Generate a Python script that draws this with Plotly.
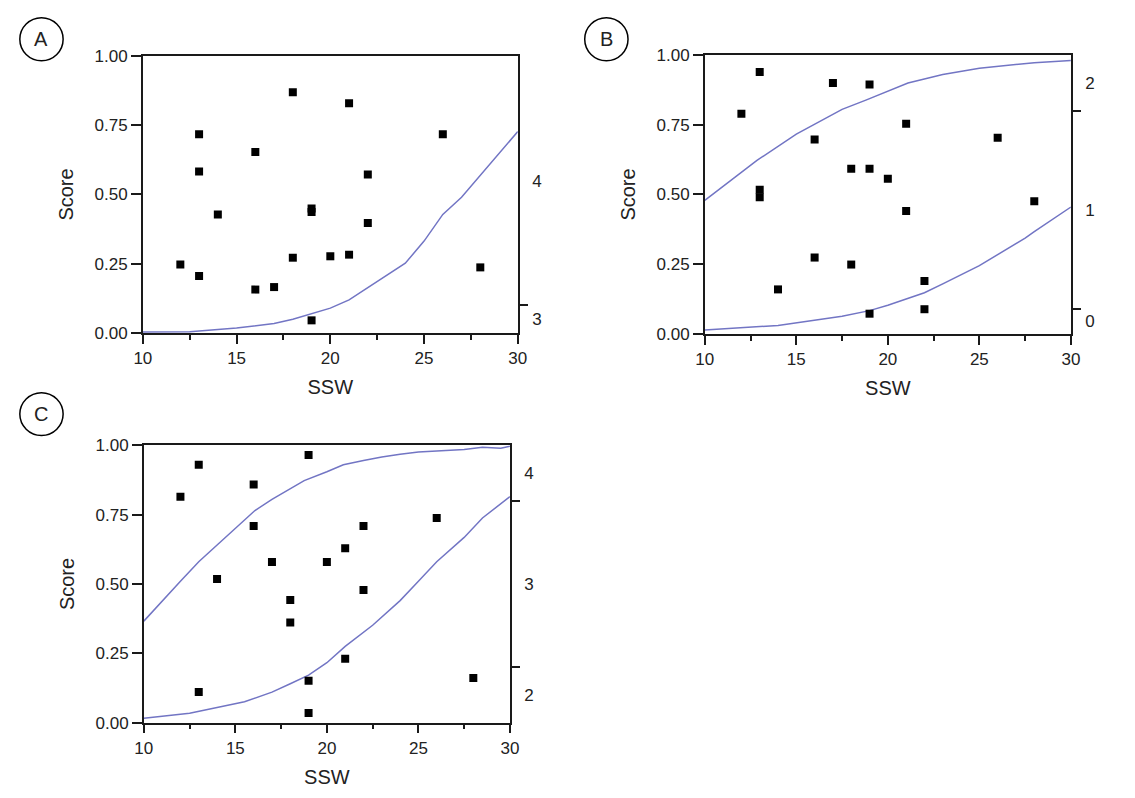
import plotly.graph_objects as go

# ---------------- data ----------------
# Panel A
a_ssw = [12, 13, 13, 13, 14, 16, 16, 17, 18, 18, 19, 19, 19, 20, 21, 21, 22, 22, 26, 28]
a_score = [0.247, 0.717, 0.583, 0.206, 0.428, 0.653, 0.157, 0.166, 0.869, 0.272,
           0.449, 0.437, 0.046, 0.277, 0.829, 0.283, 0.572, 0.397, 0.717, 0.237]
a_curve_x = [10, 12.5, 15, 17, 18, 19, 20, 21, 22, 23, 24, 25, 26, 27, 28, 30]
a_curve_y = [0.004, 0.005, 0.018, 0.035, 0.05, 0.07, 0.09, 0.12, 0.164, 0.205,
             0.252, 0.332, 0.428, 0.49, 0.57, 0.727]
a_levels = ["3", "4"]
a_bounds = [0.0, 0.10, 1.0]

# Panel B
b_ssw = [12, 13, 13, 13, 14, 16, 16, 17, 18, 18, 19, 19, 19, 20, 21, 21, 22, 22, 26, 28]
b_score = [0.789, 0.939, 0.517, 0.49, 0.160, 0.697, 0.274, 0.899, 0.592, 0.249,
           0.894, 0.592, 0.073, 0.556, 0.753, 0.441, 0.19, 0.089, 0.703, 0.476]
b_upper_x = [10, 12.85, 15, 17.5, 18.8, 21.1, 23, 25, 28, 30]
b_upper_y = [0.479, 0.622, 0.716, 0.805, 0.838, 0.899, 0.93, 0.952, 0.972, 0.98]
b_lower_x = [10, 14, 17.5, 19, 20, 21, 22, 23, 25, 27.5, 28, 30]
b_lower_y = [0.015, 0.031, 0.064, 0.084, 0.103, 0.126, 0.148, 0.18, 0.245, 0.344, 0.367, 0.455]
b_levels = ["0", "1", "2"]
b_bounds = [0.0, 0.09, 0.80, 1.0]

# Panel C
c_ssw = [12, 13, 13, 14, 16, 16, 17, 18, 18, 19, 19, 19, 20, 21, 21, 22, 22, 26, 28]
c_score = [0.815, 0.930, 0.110, 0.518, 0.859, 0.709, 0.579, 0.442, 0.361, 0.965,
           0.151, 0.035, 0.579, 0.629, 0.230, 0.709, 0.478, 0.738, 0.161]
c_upper_x = [10, 11, 12, 13, 14, 15, 16.07, 17, 18, 18.76, 20, 20.9, 22, 23, 24, 25, 27.5, 28.5, 29.5, 30]
c_upper_y = [0.366, 0.44, 0.51, 0.58, 0.64, 0.70, 0.765, 0.805, 0.845, 0.873, 0.905, 0.93,
             0.945, 0.958, 0.968, 0.976, 0.985, 0.993, 0.99, 0.997]
c_lower_x = [10, 12.5, 15.5, 17, 18, 19, 20, 21, 22.5, 24, 25, 26, 27.5, 28.5, 30]
c_lower_y = [0.016, 0.034, 0.075, 0.11, 0.14, 0.171, 0.216, 0.275, 0.351, 0.44, 0.51,
             0.58, 0.668, 0.738, 0.815]
c_levels = ["2", "3", "4"]
c_bounds = [0.0, 0.20, 0.80, 1.0]

x_ticks = [10, 15, 20, 25, 30]
x_minor = [12.5, 17.5, 22.5, 27.5]
y_ticks = [0, 0.25, 0.5, 0.75, 1.0]
panel_letters = ["A", "B", "C"]

# ---------------- layout geometry (pixels) ----------------
W, H = 1135, 798
FONT = "Liberation Sans, Arial, sans-serif"
CURVE = "#7275c4"
AX = "#1a1a1a"
TXT = "#222"

panels = [
    dict(px=(136, 517), py=(48, 332), circ=(33, 31)),
    dict(px=(707, 1079), py=(47, 333), circ=(607, 31)),
    dict(px=(137, 509), py=(447, 731), circ=(33, 415)),
]

fig = go.Figure()

series = [
    (a_ssw, a_score, [(a_curve_x, a_curve_y)], a_levels, a_bounds),
    (b_ssw, b_score, [(b_upper_x, b_upper_y), (b_lower_x, b_lower_y)], b_levels, b_bounds),
    (c_ssw, c_score, [(c_upper_x, c_upper_y), (c_lower_x, c_lower_y)], c_levels, c_bounds),
]

shapes = []
annotations = []
layout = dict(
    width=W, height=H,
    margin=dict(l=0, r=0, t=0, b=0),
    paper_bgcolor="white", plot_bgcolor="white",
    showlegend=False,
    font=dict(family=FONT, size=17, color=TXT),
)

for i, (p, (sx, sy, curves, levels, bounds)) in enumerate(zip(panels, series)):
    xn = "x" if i == 0 else f"x{i+1}"
    xkey = "xaxis" if i == 0 else f"xaxis{i+1}"
    yl = 3 * i + 1
    yr_t = 3 * i + 2
    yr_l = 3 * i + 3
    yln = "y" if yl == 1 else f"y{yl}"
    ylkey = "yaxis" if yl == 1 else f"yaxis{yl}"

    for cx, cy in curves:
        fig.add_trace(go.Scatter(x=cx, y=cy, mode="lines",
                                 line=dict(color=CURVE, width=1.5),
                                 xaxis=xn, yaxis=yln, hoverinfo="skip"))
    fig.add_trace(go.Scatter(x=sx, y=sy, mode="markers",
                             marker=dict(symbol="square", size=8, color="black"),
                             xaxis=xn, yaxis=yln))
    # empty traces so the right-hand level axes are rendered
    for ya in (f"y{yr_t}", f"y{yr_l}"):
        fig.add_trace(go.Scatter(x=[None], y=[None], mode="markers",
                                 xaxis=xn, yaxis=ya, hoverinfo="skip"))

    xd = [p["px"][0] / W, p["px"][1] / W]
    yd = [1 - p["py"][1] / H, 1 - p["py"][0] / H]

    layout[xkey] = dict(
        domain=xd, anchor=yln, range=[10, 30],
        tickvals=x_ticks, ticks="outside", ticklen=9, tickwidth=1.5, tickcolor=AX,
        showline=True, linecolor=AX, linewidth=1.5, mirror=True,
        showgrid=False, zeroline=False,
        minor=dict(tickvals=x_minor, ticks="outside", ticklen=5,
                   tickwidth=1.5, tickcolor=AX, showgrid=False),
        tickfont=dict(size=17, color=TXT),
        title=dict(text="SSW", font=dict(size=20, color=TXT), standoff=13),
    )
    layout[ylkey] = dict(
        domain=yd, anchor=xn, range=[0, 1],
        tickvals=y_ticks, tickformat=".2f", ticks="outside", ticklen=10,
        tickwidth=1.5, tickcolor=AX,
        showline=True, linecolor=AX, linewidth=1.5, mirror=True,
        showgrid=False, zeroline=False,
        tickfont=dict(size=17, color=TXT),
        title=dict(text="Score", font=dict(size=20, color=TXT), standoff=16),
    )
    inner = bounds[1:-1]
    mids = [(bounds[k] + bounds[k + 1]) / 2 for k in range(len(bounds) - 1)]
    layout[f"yaxis{yr_t}"] = dict(
        domain=yd, anchor=xn, overlaying=yln, side="right", range=[0, 1],
        tickmode="array", tickvals=inner, ticks="outside", ticklen=9,
        tickwidth=1.5, tickcolor=AX,
        showticklabels=False, showline=False, showgrid=False, zeroline=False,
    )
    layout[f"yaxis{yr_l}"] = dict(
        domain=yd, anchor=xn, overlaying=yln, side="right", range=[0, 1],
        tickmode="array", tickvals=mids, ticktext=levels, ticks="outside", ticklen=10,
        tickcolor="rgba(0,0,0,0)", showline=False, showgrid=False, zeroline=False,
        tickfont=dict(size=17, color=TXT),
    )

    cxp, cyp = p["circ"]
    r = 22
    shapes.append(dict(type="circle", xref="paper", yref="paper",
                       x0=(cxp - r) / W, x1=(cxp + r) / W,
                       y0=1 - (cyp + r) / H, y1=1 - (cyp - r) / H,
                       line=dict(color="black", width=1.5)))
    annotations.append(dict(text=panel_letters[i], xref="paper", yref="paper",
                            x=cxp / W, y=1 - cyp / H, showarrow=False,
                            xanchor="center", yanchor="middle",
                            font=dict(size=20, color=TXT, family=FONT)))

layout["shapes"] = shapes
layout["annotations"] = annotations
fig.update_layout(**layout)

fig.write_html("out.html")
